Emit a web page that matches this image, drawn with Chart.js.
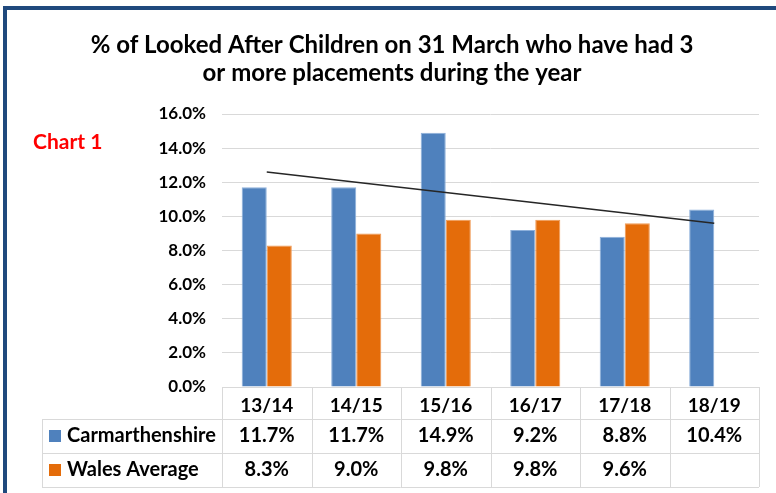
<!DOCTYPE html>
<html>
<head>
<meta charset="utf-8">
<script src="https://cdn.jsdelivr.net/npm/chart.js@4.4.1/dist/chart.umd.min.js"></script>
<style>
html,body{margin:0;padding:0;background:#fff;}
#wrap{position:relative;width:776px;height:493px;}
</style>
</head>
<body>
<div id="wrap"><canvas id="c" width="776" height="493"></canvas></div>
<script>
// ---- data ----
const categories = ['13/14', '14/15', '15/16', '16/17', '17/18', '18/19'];
const carmarthenshire = [11.7, 11.7, 14.9, 9.2, 8.8, 10.4];
const walesAverage = [8.3, 9.0, 9.8, 9.8, 9.6, null];
const trendline = [12.6, null, null, null, null, 9.6];
const yTicks = [0, 2, 4, 6, 8, 10, 12, 14, 16];
const seriesNames = ['Carmarthenshire', 'Wales Average'];
const titleLines = ['% of Looked After Children on 31 March who have had 3', 'or more placements during the year'];
const sideLabel = 'Chart 1';

// ---- styles ----
const FONT = 'Lato, "Open Sans", sans-serif';
const BLUE = '#4F81BD';
const ORANGE = '#E46C0A';
const GRID = '#D9D9D9';
const FRAME = '#1F497D';

const tablePlugin = {
  id: 'tablePlugin',
  afterDraw(chart) {
    const ctx = chart.ctx;
    const xs = chart.scales.x;
    const area = chart.chartArea;
    const n = categories.length;
    const colW = xs.width / n;
    const top = area.bottom;          // header row top (axis line)
    const headerBottom = top + 32;
    const rowH = 34;
    const tableLeft = 42;
    const tableBottom = headerBottom + rowH * 2;

    ctx.save();
    // frame
    ctx.fillStyle = FRAME;
    ctx.fillRect(3, 6, 773, 4);
    ctx.fillRect(3, 6, 4, 487);

    // title
    ctx.fillStyle = '#000';
    ctx.font = 'bold 24px ' + FONT;
    ctx.textAlign = 'center';
    ctx.textBaseline = 'middle';
    titleLines.forEach((t, i) => ctx.fillText(t, 392, 45 + i * 28));

    // table lines
    ctx.strokeStyle = GRID;
    ctx.lineWidth = 1;
    ctx.beginPath();
    ctx.moveTo(xs.left, top + 0.5); ctx.lineTo(xs.right, top + 0.5);
    for (let r = 0; r <= 2; r++) {
      const y = Math.round(headerBottom + r * rowH) + 0.5;
      ctx.moveTo(tableLeft, y); ctx.lineTo(xs.right, y);
    }
    for (let i = 0; i <= n; i++) {
      const x = Math.round(xs.left + i * colW) + 0.5;
      ctx.moveTo(x, top); ctx.lineTo(x, tableBottom);
    }
    ctx.moveTo(tableLeft + 0.5, headerBottom); ctx.lineTo(tableLeft + 0.5, tableBottom);
    ctx.stroke();

    // rows
    const rows = [carmarthenshire, walesAverage];
    const colors = [BLUE, ORANGE];
    ctx.font = 'bold 20px ' + FONT;
    ctx.textBaseline = 'middle';
    rows.forEach((vals, r) => {
      const cy = headerBottom + r * rowH + rowH / 2;
      ctx.fillStyle = colors[r];
      ctx.fillRect(49, Math.round(cy - 6), 12, 12);
      ctx.fillStyle = '#000';
      ctx.textAlign = 'left';
      ctx.fillText(seriesNames[r], 67, cy);
      ctx.textAlign = 'center';
      vals.forEach((v, i) => {
        if (v === null || v === undefined) return;
        ctx.fillText(v.toFixed(1) + '%', xs.getPixelForValue(i), cy);
      });
    });

    // side label
    ctx.fillStyle = '#FF0000';
    ctx.font = 'bold 21px ' + FONT;
    ctx.textAlign = 'left';
    ctx.textBaseline = 'middle';
    ctx.fillText(sideLabel, 33, 142);
    ctx.restore();
  }
};

new Chart(document.getElementById('c'), {
  data: {
    labels: categories,
    datasets: [
      {
        type: 'line',
        label: 'Trend',
        data: trendline,
        spanGaps: true,
        borderColor: '#262626',
        borderWidth: 1.5,
        pointRadius: 0,
        fill: false,
        order: 0
      },
      {
        type: 'bar',
        label: seriesNames[0],
        data: carmarthenshire,
        backgroundColor: BLUE,
        borderColor: '#8DB0DB',
        borderWidth: 1,
        categoryPercentage: 0.56,
        barPercentage: 1.0,
        order: 1
      },
      {
        type: 'bar',
        label: seriesNames[1],
        data: walesAverage,
        backgroundColor: ORANGE,
        borderColor: '#F09A55',
        borderWidth: 1,
        categoryPercentage: 0.56,
        barPercentage: 1.0,
        order: 1
      }
    ]
  },
  options: {
    responsive: false,
    devicePixelRatio: 1,
    animation: false,
    layout: { padding: { left: 0, right: 17, top: 114, bottom: 6 } },
    plugins: {
      legend: { display: false },
      tooltip: { enabled: false },
      title: { display: false }
    },
    scales: {
      x: {
        type: 'category',
        grid: { display: false, drawTicks: false },
        border: { display: false },
        ticks: {
          color: '#000',
          font: { family: FONT, size: 19, weight: 'bold' },
          padding: 7,
          maxRotation: 0
        },
        afterFit(s) { s.height = 100; }
      },
      y: {
        min: 0,
        max: 16,
        afterBuildTicks(s) { s.ticks = yTicks.map(v => ({ value: v })); },
        grid: { color: GRID, drawTicks: false },
        border: { display: false },
        ticks: {
          color: '#000',
          font: { family: FONT, size: 17, weight: 'bold' },
          padding: 16,
          callback: v => v.toFixed(1) + '%'
        },
        afterFit(s) { s.width = 222; }
      }
    }
  },
  plugins: [tablePlugin]
});
</script>
</body>
</html>
